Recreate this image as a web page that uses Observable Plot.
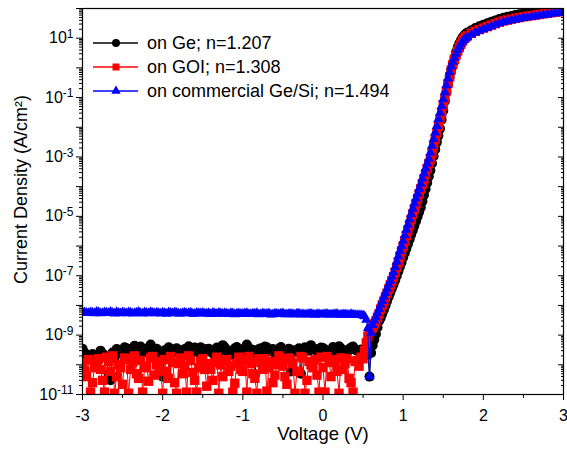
<!DOCTYPE html>
<html><head><meta charset="utf-8">
<script src="https://cdn.jsdelivr.net/npm/d3@7"></script>
<script src="https://cdn.jsdelivr.net/npm/@observablehq/plot@0.6"></script>
<style>body{margin:0;background:#fff}#chart{width:567px;height:450px}</style>
</head><body><div id="chart"></div>
<script>
// Voltage sweep (V)
const voltage = [
-3.00,-2.95,-2.90,-2.85,-2.80,-2.75,-2.70,-2.65,-2.60,-2.55,-2.50,-2.45,-2.40,-2.35,-2.30,-2.25,-2.20,-2.15,-2.10,-2.05,
-2.00,-1.95,-1.90,-1.85,-1.80,-1.75,-1.70,-1.65,-1.60,-1.55,-1.50,-1.45,-1.40,-1.35,-1.30,-1.25,-1.20,-1.15,-1.10,-1.05,
-1.00,-0.95,-0.90,-0.85,-0.80,-0.75,-0.70,-0.65,-0.60,-0.55,-0.50,-0.45,-0.40,-0.35,-0.30,-0.25,-0.20,-0.15,-0.10,-0.05,
0.00,0.05,0.10,0.15,0.20,0.25,0.30,0.35,0.40,0.45,
0.50,0.52,0.54,0.56,0.58,0.60,0.62,0.64,0.66,0.68,0.70,0.72,0.74,0.76,0.78,0.80,0.82,0.84,0.86,0.88,
0.90,0.92,0.94,0.96,0.98,1.00,1.02,1.04,1.06,1.08,1.10,1.12,1.14,1.16,1.18,1.20,1.22,1.24,1.26,1.28,
1.30,1.32,1.34,1.36,1.38,1.40,1.42,1.44,1.46,1.48,1.50,1.52,1.54,1.56,1.58,1.60,1.62,1.64,1.66,1.68,
1.70,1.72,1.74,1.76,1.78,1.80,
1.85,1.90,1.95,2.00,2.05,2.10,2.15,2.20,2.25,2.30,2.35,2.40,2.45,2.50,2.55,2.60,2.65,2.70,2.75,2.80,
2.85,2.90,2.95,3.00];

// Intermediate reverse-bias voltages (V)
const voltageMid = [
-2.975,-2.925,-2.875,-2.825,-2.775,-2.725,-2.675,-2.625,-2.575,-2.525,-2.475,-2.425,-2.375,-2.325,-2.275,-2.225,-2.175,-2.125,-2.075,-2.025,
-1.975,-1.925,-1.875,-1.825,-1.775,-1.725,-1.675,-1.625,-1.575,-1.525,-1.475,-1.425,-1.375,-1.325,-1.275,-1.225,-1.175,-1.125,-1.075,-1.025,
-0.975,-0.925,-0.875,-0.825,-0.775,-0.725,-0.675,-0.625,-0.575,-0.525,-0.475,-0.425,-0.375,-0.325,-0.275,-0.225,-0.175,-0.125,-0.075,-0.025,
0.025,0.075,0.125,0.175,0.225,0.275,0.325,0.375,0.425,0.475];

// Current density (A/cm^2), on Ge
const jGe = [
3.5e-10,2.2e-10,1.6e-10,2.0e-10,1.4e-10,2.4e-10,1.8e-10,3.0e-11,1.7e-10,3.2e-10,2.6e-10,3.6e-10,2.8e-10,4.4e-10,3.1e-10,2.5e-10,3.4e-10,4.8e-10,3.0e-10,2.2e-10,
4.0e-11,2.9e-10,3.5e-10,2.7e-10,3.2e-10,2.4e-10,3.3e-10,2.6e-10,3.8e-10,2.9e-10,2.3e-10,3.4e-10,2.7e-10,3.1e-10,2.5e-10,4.6e-10,3.0e-10,2.2e-10,3.6e-10,2.8e-10,
3.3e-10,4.8e-10,2.9e-10,4.5e-11,3.4e-10,2.6e-10,3.9e-10,3.1e-10,2.4e-10,3.5e-10,2.7e-10,3.2e-10,6.0e-11,2.9e-10,3.6e-10,2.6e-10,3.3e-10,4.6e-10,3.4e-10,2.5e-10,
3.7e-10,3.0e-10,2.4e-10,3.5e-10,4.2e-10,3.1e-10,2.6e-10,3.8e-10,3.2e-10,2.8e-10,
3.0e-10,2.6e-10,3.3e-10,2.2e-10,4.0e-11,2.5e-10,4.5e-10,7.0e-10,1.1e-9,1.8e-9,3.0e-9,3.8e-9,5.2e-9,7.2e-9,1.0e-8,1.4e-8,1.95e-8,2.7e-8,3.7e-8,5.1e-8,
7.1e-8,9.8e-8,1.4e-7,2.0e-7,2.8e-7,4.1e-7,5.8e-7,8.1e-7,1.17e-6,1.66e-6,2.4e-6,3.4e-6,4.8e-6,6.9e-6,9.8e-6,1.4e-5,2.0e-5,3.2e-5,5.2e-5,8.3e-5,
1.35e-4,2.2e-4,3.5e-4,6.0e-4,1.05e-3,1.8e-3,3.1e-3,5.2e-3,8.9e-3,1.8e-2,3.6e-2,7.5e-2,0.15,0.28,0.49,0.85,1.4,2.2,3.4,4.9,
6.6,8.5,10.5,12.3,14.1,15.6,
18.6,21.9,25.1,28.2,31.6,35.5,39.8,44.7,49.0,52.5,56.2,60.3,63.8,67.6,70.8,74.1,77.6,81.3,85.1,89.1,
93.3,96.6,100,104.7];
const jGeMid = [
2.6e-10,1.9e-10,2.3e-10,1.5e-10,3.0e-10,2.1e-10,5.0e-11,2.6e-10,3.4e-10,2.4e-10,3.9e-10,3.0e-10,3.7e-10,2.6e-10,4.1e-10,2.9e-10,3.8e-10,2.7e-10,3.5e-10,2.5e-10,
3.1e-10,3.9e-10,2.6e-10,3.6e-10,2.8e-10,3.4e-10,4.2e-10,3.0e-10,2.7e-10,3.9e-10,2.9e-10,3.5e-10,2.4e-10,3.8e-10,3.2e-10,3.9e-10,2.6e-10,3.1e-10,4.0e-10,3.3e-10,
2.7e-10,3.7e-10,3.2e-10,2.5e-10,3.6e-10,4.1e-10,2.8e-10,3.4e-10,3.0e-10,4.0e-10,2.6e-10,3.5e-10,3.1e-10,2.7e-10,5.0e-11,3.9e-10,3.0e-10,3.6e-10,2.8e-10,3.8e-10,
3.3e-10,2.7e-10,4.0e-10,3.1e-10,3.6e-10,2.9e-10,3.4e-10,4.1e-10,3.0e-10,3.3e-10];

// on GOI
const jGOI = [
1.2e-10,4.0e-11,1.2e-11,8.0e-11,1.6e-10,3.0e-11,1.8e-10,6.0e-11,1.1e-11,1.0e-10,2.2e-11,1.5e-10,7.0e-11,2.0e-10,3.5e-11,1.2e-11,9.0e-11,1.7e-10,4.5e-11,1.3e-10,
1.1e-11,6.0e-11,1.9e-10,2.5e-11,1.1e-10,5.0e-11,1.2e-11,1.4e-10,3.0e-11,8.0e-11,1.6e-10,1.9e-11,7.0e-11,1.2e-10,1.1e-11,4.0e-11,1.5e-10,9.0e-11,2.4e-11,1.8e-10,
6.0e-11,1.2e-11,1.1e-10,3.5e-11,1.6e-10,7.0e-11,1.3e-11,1.3e-10,4.5e-11,2.0e-10,9.0e-11,2.2e-11,1.4e-10,1.1e-11,6.0e-11,1.7e-10,3.0e-11,1.0e-10,1.5e-10,1.2e-11,
8.0e-11,1.9e-10,4.0e-11,1.2e-10,1.1e-11,7.0e-11,1.6e-10,2.5e-11,1.3e-10,9.0e-11,
1.6e-10,3.0e-10,5.5e-10,9.0e-10,1.3e-9,1.6e-9,1.8e-9,2.4e-9,3.0e-9,4.0e-9,5.2e-9,7.6e-9,1.05e-8,1.4e-8,1.95e-8,2.6e-8,3.6e-8,5.0e-8,6.8e-8,9.3e-8,
1.3e-7,1.95e-7,2.95e-7,4.5e-7,6.8e-7,1.0e-6,1.5e-6,2.3e-6,3.5e-6,5.2e-6,7.9e-6,1.2e-5,1.8e-5,2.7e-5,4.0e-5,5.8e-5,8.5e-5,1.26e-4,1.86e-4,2.75e-4,
4.1e-4,6.0e-4,8.7e-4,1.4e-3,2.4e-3,4.0e-3,6.6e-3,1.1e-2,1.9e-2,3.1e-2,5.5e-2,9.5e-2,0.17,0.30,0.50,0.85,1.3,1.9,2.7,3.7,
4.9,6.3,8.1,9.8,11,12,
14.5,17.0,19.5,21.9,24.5,27.5,30.9,34.7,38.0,40.7,43.7,46.8,49.5,52.5,54.9,57.5,60.3,63.1,66.1,69.2,
72.4,75.0,77.6,81.3];
const jGOIMid = [
6.0e-11,1.5e-10,2.5e-11,1.1e-10,7.0e-11,1.2e-11,1.3e-10,2.0e-10,4.0e-11,8.0e-11,1.7e-10,1.1e-11,1.2e-10,5.0e-11,1.4e-10,8.0e-11,2.8e-11,1.9e-10,1.0e-10,6.0e-11,
1.5e-10,3.5e-11,1.2e-10,1.1e-11,1.7e-10,9.0e-11,2.0e-10,5.5e-11,1.2e-11,1.3e-10,7.0e-11,1.1e-10,3.0e-11,1.8e-10,1.0e-10,1.3e-10,6.0e-11,1.2e-11,1.1e-10,7.0e-11,
1.4e-10,1.9e-10,5.0e-11,1.1e-11,1.2e-10,1.6e-10,8.0e-11,2.5e-11,1.0e-10,1.5e-10,4.0e-11,1.7e-10,1.1e-10,6.0e-11,1.9e-10,1.1e-11,1.3e-10,8.0e-11,4.5e-11,1.8e-10,
1.2e-11,1.2e-10,1.5e-10,6.0e-11,1.7e-10,1.1e-10,3.5e-11,1.2e-11,1.4e-10,1.8e-10];

// on commercial Ge/Si
const jGeSi = [
6.0e-9,5.6e-9,5.8e-9,5.4e-9,5.9e-9,5.5e-9,5.7e-9,6.1e-9,5.3e-9,5.6e-9,5.8e-9,5.4e-9,5.7e-9,5.5e-9,6.0e-9,5.3e-9,5.6e-9,5.9e-9,5.4e-9,5.5e-9,
5.7e-9,5.2e-9,5.6e-9,5.8e-9,5.3e-9,5.5e-9,5.4e-9,5.7e-9,5.2e-9,5.5e-9,5.6e-9,5.3e-9,5.1e-9,5.4e-9,5.6e-9,5.2e-9,5.3e-9,5.5e-9,5.0e-9,5.4e-9,
5.2e-9,5.5e-9,5.1e-9,5.3e-9,5.0e-9,5.4e-9,5.2e-9,4.9e-9,5.3e-9,5.1e-9,5.4e-9,5.0e-9,5.2e-9,4.9e-9,5.3e-9,5.1e-9,5.0e-9,5.2e-9,4.8e-9,5.1e-9,
5.0e-9,5.2e-9,4.9e-9,5.1e-9,4.8e-9,5.0e-9,4.9e-9,5.1e-9,4.8e-9,4.7e-9,
4.6e-9,4.3e-9,3.3e-9,1.7e-9,4.0e-11,1.2e-9,2.2e-9,3.1e-9,4.0e-9,5.5e-9,7.6e-9,1.05e-8,1.4e-8,1.95e-8,2.6e-8,3.6e-8,5.0e-8,6.8e-8,9.3e-8,1.3e-7,
1.95e-7,2.95e-7,4.5e-7,6.8e-7,1.0e-6,1.5e-6,2.3e-6,3.5e-6,5.2e-6,7.9e-6,1.2e-5,1.8e-5,2.7e-5,4.0e-5,5.8e-5,8.5e-5,1.26e-4,1.86e-4,2.75e-4,4.1e-4,
6.0e-4,8.7e-4,1.4e-3,2.4e-3,4.0e-3,6.6e-3,1.1e-2,1.9e-2,3.1e-2,5.2e-2,8.9e-2,0.15,0.26,0.44,0.71,1.12,1.6,2.2,3.0,4.0,
5.1,6.5,7.8,8.9,10,11,
13.2,15.5,17.8,20.0,22.4,25.1,28.2,31.6,34.7,37.2,39.8,42.7,45.2,47.9,50.1,52.5,55.0,57.5,60.3,63.1,
66.1,68.4,70.8,74.1];
const jGeSiMid = [
5.8e-9,5.5e-9,5.7e-9,6.0e-9,5.4e-9,5.8e-9,5.5e-9,5.6e-9,5.9e-9,5.4e-9,5.6e-9,5.8e-9,5.3e-9,5.7e-9,5.5e-9,5.8e-9,5.4e-9,5.6e-9,5.7e-9,5.3e-9,
5.5e-9,5.8e-9,5.4e-9,5.6e-9,5.3e-9,5.7e-9,5.5e-9,5.2e-9,5.6e-9,5.4e-9,5.3e-9,5.5e-9,5.6e-9,5.2e-9,5.4e-9,5.5e-9,5.1e-9,5.4e-9,5.3e-9,5.2e-9,
5.4e-9,5.1e-9,5.3e-9,5.5e-9,5.1e-9,5.2e-9,5.4e-9,5.0e-9,5.2e-9,5.3e-9,5.0e-9,5.2e-9,5.1e-9,5.3e-9,5.0e-9,4.9e-9,5.2e-9,5.0e-9,5.1e-9,4.9e-9,
5.1e-9,4.9e-9,5.0e-9,5.2e-9,4.9e-9,5.0e-9,4.8e-9,4.9e-9,4.7e-9,4.7e-9];

const seriesNames = ["on Ge; n=1.207", "on GOI; n=1.308", "on commercial Ge/Si; n=1.494"];
const seriesColors = ["#000000", "#ff0000", "#0000ff"];
const seriesSymbols = ["circle", "square", "triangle"];
const seriesValues = [jGe, jGOI, jGeSi];
const seriesMidValues = [jGeMid, jGOIMid, jGeSiMid];

const xTicks = [-3, -2, -1, 0, 1, 2, 3];
const xMinorTicks = [-2.5, -1.5, -0.5, 0.5, 1.5, 2.5];
const yDecadeExponents = [-11, -10, -9, -8, -7, -6, -5, -4, -3, -2, -1, 0, 1, 2];
const yLabelExponents = [-11, -9, -7, -5, -3, -1, 1];
const yDomain = [1e-11, 1e2];

seriesValues.forEach((s, i) => {
  if (s.length !== voltage.length) throw new Error(`series ${i} length ${s.length} != ${voltage.length}`);
  if (seriesMidValues[i].length !== voltageMid.length) throw new Error(`mid series ${i} length ${seriesMidValues[i].length} != ${voltageMid.length}`);
});

const FONT = "'Liberation Sans', Arial, Helvetica, sans-serif";
const yMajor = yDecadeExponents.map(e => Math.pow(10, e));
const yMinor = [];
yDecadeExponents.forEach(e => { for (let m = 2; m <= 9; m++) { const v = m * Math.pow(10, e); if (v <= yDomain[1]) yMinor.push(v); } });
const labelSet = new Set(yLabelExponents);

const rows = seriesValues.map((vals, s) =>
  voltage.map((v, i) => ({V: v, J: vals[i]}))
    .concat(voltageMid.map((v, i) => ({V: v, J: seriesMidValues[s][i]})))
    .sort((a, b) => a.V - b.V));
const dotR = [5.0, 5.3, 3.8];

const marks = [];
rows.forEach((data, s) => {
  marks.push(Plot.line(data, {x: "V", y: "J", stroke: seriesColors[s], strokeWidth: 1, clip: true}));
  marks.push(Plot.dot(data, {x: "V", y: "J", symbol: seriesSymbols[s], fill: seriesColors[s], r: dotR[s], clip: true}));
});

marks.push(
  Plot.axisX({ticks: xTicks, tickSize: 6, tickPadding: 9, tickFormat: d => String(d), fontSize: 16, label: null}),
  Plot.axisX({ticks: xMinorTicks, tickSize: 4, tickFormat: () => "", label: null}),
  Plot.axisY({ticks: yMajor, tickSize: 6, tickPadding: 3, fontSize: 16, label: null,
    tickFormat: d => { const e = Math.round(Math.log10(d)); return labelSet.has(e) ? `10^${e}` : ""; }}),
  Plot.axisY({ticks: yMinor, tickSize: 3, tickFormat: () => "", label: null}),
  Plot.axisY({anchor: "right", ticks: yMajor, tickSize: 6, dx: -6, tickFormat: () => "", label: null}),
  Plot.axisY({anchor: "right", ticks: yMinor, tickSize: 3, dx: -3, tickFormat: () => "", label: null}),
  Plot.frame({stroke: "#000", strokeWidth: 1.2}),
  Plot.text(["Voltage (V)"], {frameAnchor: "bottom", textAnchor: "middle", dy: 45, fontSize: 18.5, fill: "#000"}),
  Plot.text(["Current Density (A/cm²)"], {frameAnchor: "left", textAnchor: "middle", rotate: -90, dx: -61, dy: -12, fontSize: 18, fill: "#000"})
);

const chart = Plot.plot({
  width: 567, height: 450,
  marginLeft: 82, marginRight: 4, marginTop: 8, marginBottom: 56,
  style: {fontFamily: FONT, fontSize: "16px", background: "#fff", color: "#000", overflow: "visible"},
  x: {domain: [-3, 3]},
  y: {type: "log", domain: yDomain},
  marks
});

// tick label font size
d3.select(chart).selectAll('g[aria-label="x-axis tick label"] text, g[aria-label="y-axis tick label"] text')
  .attr("font-size", 16).style("font-size", "16px");

// superscripted decade labels
d3.select(chart).selectAll('g[aria-label="y-axis tick label"] text').each(function() {
  const t = this.textContent;
  const m = /^10\^(-?\d+)$/.exec(t);
  if (!m) return;
  const sel = d3.select(this);
  sel.text(null);
  sel.append("tspan").text("10");
  sel.append("tspan").style("font-size", "12px").attr("dy", "-0.45em").text(m[1]);
});

// legend
const lg = d3.select(chart).append("g").attr("font-family", FONT).attr("text-anchor", "start").style("font-size", "18px");
const legendSymbols = [d3.symbolCircle, d3.symbolSquare, d3.symbolTriangle];
const legendSizes = [50, 49, 38];
seriesNames.forEach((name, i) => {
  const cy = 43 + i * 24;
  lg.append("line").attr("x1", 93).attr("x2", 138).attr("y1", cy).attr("y2", cy)
    .attr("stroke", seriesColors[i]).attr("stroke-width", 1.5);
  lg.append("path").attr("d", d3.symbol(legendSymbols[i], legendSizes[i])())
    .attr("transform", `translate(116,${cy})`).attr("fill", seriesColors[i]);
  lg.append("text").attr("x", 147).attr("y", cy).attr("dy", "0.35em").attr("fill", "#000").text(name);
});

document.getElementById("chart").appendChild(chart);
</script>
</body></html>
